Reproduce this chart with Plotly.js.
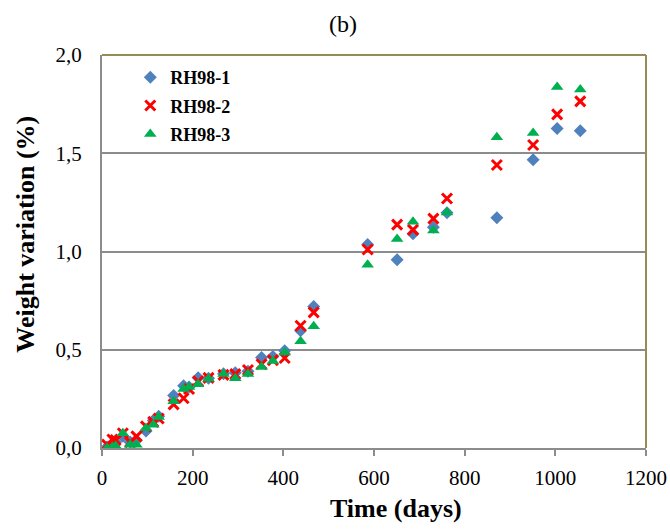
<!DOCTYPE html>
<html>
<head>
<meta charset="utf-8">
<script src="https://cdn.plot.ly/plotly-3.0.1.min.js"></script>
<style>html,body{margin:0;padding:0;background:#fff;}#chart{width:670px;height:530px;}</style>
</head>
<body>
<div id="chart"></div>
<script>
const timeDays = [11, 23, 30, 46, 62, 76, 97, 113, 125, 158, 180, 192, 212, 235, 268, 294, 322, 352, 377, 403, 438, 467, 586, 651, 686, 731, 761, 871, 951, 1004, 1055];
const rh98_1 = [0.005, 0.02, 0.03, 0.06, 0.03, 0.04, 0.086, 0.14, 0.162, 0.267, 0.317, 0.31, 0.357, 0.355, 0.378, 0.383, 0.391, 0.460, 0.466, 0.495, 0.597, 0.720, 1.035, 0.958, 1.090, 1.123, 1.197, 1.172, 1.467, 1.626, 1.614];
const rh98_2 = [0.017, 0.043, 0.04, 0.075, 0.03, 0.059, 0.11, 0.133, 0.15, 0.222, 0.253, 0.30, 0.34, 0.357, 0.372, 0.376, 0.397, 0.426, 0.447, 0.458, 0.622, 0.690, 1.010, 1.137, 1.110, 1.167, 1.270, 1.440, 1.542, 1.698, 1.764];
const rh98_3 = [0.0, 0.005, 0.01, 0.075, 0.017, 0.017, 0.10, 0.118, 0.158, 0.238, 0.30, 0.31, 0.324, 0.352, 0.376, 0.355, 0.376, 0.412, 0.443, 0.486, 0.543, 0.620, 0.932, 1.063, 1.152, 1.107, 1.199, 1.582, 1.603, 1.837, 1.824];
const seriesNames = ['RH98-1', 'RH98-2', 'RH98-3'];
const xTicks = [0, 200, 400, 600, 800, 1000, 1200];
const yTicks = [0, 0.5, 1.0, 1.5, 2.0];
const xTitle = 'Time (days)';
const yTitle = 'Weight variation (%)';
const chartTitle = '(b)';

const serif = 'Liberation Serif, Times New Roman, serif';

const traces = [
  {x: timeDays, y: rh98_1, name: seriesNames[0], type: 'scatter', mode: 'markers', legendgroup: 'a',
   marker: {symbol: 'diamond', size: 10, color: '#4F81BD'}},
  {x: timeDays, y: rh98_2, name: seriesNames[1], type: 'scatter', mode: 'markers', legendgroup: 'b',
   marker: {symbol: 'x-thin', size: 10, color: '#FF0000', line: {color: '#FF0000', width: 3}}},
  {x: timeDays, y: rh98_3, name: seriesNames[2], type: 'scatter', mode: 'markers', legendgroup: 'c',
   marker: {symbol: 'triangle-up', size: 11, color: '#00B050'}}
];

const layout = {
  width: 670, height: 530,
  margin: {l: 102, r: 24, t: 55, b: 82},
  paper_bgcolor: '#ffffff', plot_bgcolor: '#ffffff',
  separators: ',.',
  showlegend: true,
  title: {text: chartTitle, font: {family: serif, size: 24, color: '#000'}, x: 0.512, xanchor: 'center', y: 0.955, yanchor: 'middle'},
  xaxis: {
    range: [0, 1200], tickvals: xTicks, tickformat: 'd',
    showgrid: false, zeroline: false,
    showline: true, linecolor: '#8C8C8C', linewidth: 2,
    ticks: 'outside', ticklen: 6, tickcolor: '#8C8C8C', tickwidth: 2,
    tickfont: {family: serif, size: 21, color: '#000'},
    ticklabelstandoff: 4
  },
  yaxis: {
    range: [0, 2.0], tickvals: yTicks, tickformat: '.1f',
    showgrid: true, gridcolor: '#8C8C8C', gridwidth: 2, zeroline: false,
    showline: true, linecolor: '#8C8C8C', linewidth: 2,
    ticks: '', tickfont: {family: serif, size: 21, color: '#000'},
    ticklabelstandoff: 14
  },
  legend: {
    x: 0.052, y: 0.99, xanchor: 'left', yanchor: 'top',
    bgcolor: 'rgba(0,0,0,0)', borderwidth: 0,
    font: {family: serif, size: 18, color: '#000', weight: 'bold'},
    tracegroupgap: 2, itemwidth: 30
  },
  annotations: [
    {text: '<b>' + xTitle + '</b>', xref: 'paper', yref: 'paper', x: 0.54, y: -0.153, xanchor: 'center', yanchor: 'middle',
     showarrow: false, font: {family: serif, size: 26, color: '#000'}},
    {text: '<b>' + yTitle + '</b>', xref: 'paper', yref: 'paper', x: -0.14, y: 0.545, xanchor: 'center', yanchor: 'middle',
     textangle: -90, showarrow: false, font: {family: serif, size: 26, color: '#000'}}
  ],
  shapes: [
    {type: 'line', xref: 'paper', yref: 'paper', x0: 0, x1: 1, y0: 1, y1: 1, line: {color: '#958B55', width: 2}, layer: 'above'},
    {type: 'line', xref: 'paper', yref: 'paper', x0: 1, x1: 1, y0: 0, y1: 1, line: {color: '#958B55', width: 2}, layer: 'above'}
  ]
};

Plotly.newPlot('chart', traces, layout, {displayModeBar: false, staticPlot: true});
</script>
</body>
</html>
